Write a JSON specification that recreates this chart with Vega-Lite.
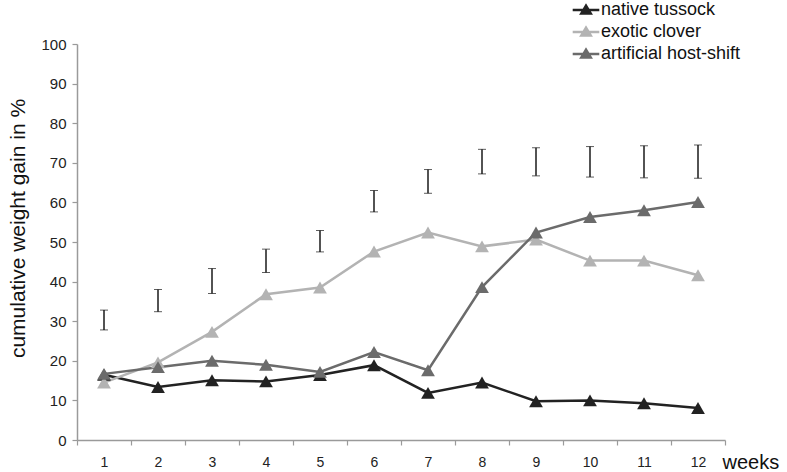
{
  "$schema": "https://vega.github.io/schema/vega-lite/v6.json",
  "autosize": {"type": "none"},
  "padding": {"left": 77, "top": 44, "right": 62, "bottom": 32},
  "width": 648,
  "height": 396,
  "background": "white",
  "config": {
    "view": {"stroke": null},
    "font": "Liberation Sans",
    "axis": {"grid": false, "domainColor": "#9a9a9a", "tickColor": "#9a9a9a", "labelColor": "#222222", "titleColor": "#111111", "titleFontWeight": "normal", "domainWidth": 1.5, "tickWidth": 1.2}
  },
  "datasets": {
    "lines": [
      {"week": 1, "group": "native tussock", "gain": 16.5},
      {"week": 2, "group": "native tussock", "gain": 13.4},
      {"week": 3, "group": "native tussock", "gain": 15.1},
      {"week": 4, "group": "native tussock", "gain": 14.8},
      {"week": 5, "group": "native tussock", "gain": 16.4},
      {"week": 6, "group": "native tussock", "gain": 18.9},
      {"week": 7, "group": "native tussock", "gain": 11.9},
      {"week": 8, "group": "native tussock", "gain": 14.5},
      {"week": 9, "group": "native tussock", "gain": 9.8},
      {"week": 10, "group": "native tussock", "gain": 10.0},
      {"week": 11, "group": "native tussock", "gain": 9.3},
      {"week": 12, "group": "native tussock", "gain": 8.1},
      {"week": 1, "group": "exotic clover", "gain": 14.5},
      {"week": 2, "group": "exotic clover", "gain": 19.6},
      {"week": 3, "group": "exotic clover", "gain": 27.3},
      {"week": 4, "group": "exotic clover", "gain": 36.8},
      {"week": 5, "group": "exotic clover", "gain": 38.5},
      {"week": 6, "group": "exotic clover", "gain": 47.6},
      {"week": 7, "group": "exotic clover", "gain": 52.4},
      {"week": 8, "group": "exotic clover", "gain": 48.9},
      {"week": 9, "group": "exotic clover", "gain": 50.6},
      {"week": 10, "group": "exotic clover", "gain": 45.3},
      {"week": 11, "group": "exotic clover", "gain": 45.3},
      {"week": 12, "group": "exotic clover", "gain": 41.6},
      {"week": 1, "group": "artificial host-shift", "gain": 16.7},
      {"week": 2, "group": "artificial host-shift", "gain": 18.4},
      {"week": 3, "group": "artificial host-shift", "gain": 20.0},
      {"week": 4, "group": "artificial host-shift", "gain": 19.0},
      {"week": 5, "group": "artificial host-shift", "gain": 17.2},
      {"week": 6, "group": "artificial host-shift", "gain": 22.2},
      {"week": 7, "group": "artificial host-shift", "gain": 17.6},
      {"week": 8, "group": "artificial host-shift", "gain": 38.6},
      {"week": 9, "group": "artificial host-shift", "gain": 52.4},
      {"week": 10, "group": "artificial host-shift", "gain": 56.3},
      {"week": 11, "group": "artificial host-shift", "gain": 58.0},
      {"week": 12, "group": "artificial host-shift", "gain": 60.1}
    ],
    "bars": [
      {"week": 1, "lo": 27.8, "hi": 32.8},
      {"week": 2, "lo": 32.4, "hi": 38.0},
      {"week": 3, "lo": 37.0, "hi": 43.3},
      {"week": 4, "lo": 42.3, "hi": 48.2},
      {"week": 5, "lo": 47.5, "hi": 52.9},
      {"week": 6, "lo": 57.6, "hi": 63.0},
      {"week": 7, "lo": 62.3, "hi": 68.3},
      {"week": 8, "lo": 67.2, "hi": 73.4},
      {"week": 9, "lo": 66.7, "hi": 73.8},
      {"week": 10, "lo": 66.4, "hi": 74.1},
      {"week": 11, "lo": 66.2, "hi": 74.3},
      {"week": 12, "lo": 66.1, "hi": 74.5}
    ]
  },
  "encoding": {
    "x": {
      "field": "week", "type": "ordinal",
      "scale": {"type": "band", "paddingInner": 0, "paddingOuter": 0},
      "axis": {
        "title": "weeks", "labelAngle": 0, "labelFontSize": 14, "labelPadding": 10, "tickSize": 5, "tickBand": "extent",
        "titleFontSize": 20, "titleAlign": "left", "titleBaseline": "alphabetic", "titleX": 645, "titleY": 28, "titleAnchor": null
      }
    }
  },
  "layer": [
    {
      "data": {"name": "bars"},
      "mark": {"type": "errorbar", "ticks": {"size": 8, "color": "#1a1a1a", "strokeWidth": 1.5}, "rule": {"color": "#1a1a1a", "strokeWidth": 1.5}},
      "encoding": {
        "y": {
          "field": "lo", "type": "quantitative",
          "scale": {"domain": [0, 100], "nice": false},
          "axis": {
            "title": "cumulative weight gain in %", "values": [0, 10, 20, 30, 40, 50, 60, 70, 80, 90, 100],
            "labelFontSize": 15, "labelPadding": 6, "tickSize": 5,
            "titleFontSize": 21, "titleAngle": -90, "titleAlign": "center", "titleBaseline": "middle", "titleX": -59, "titleY": 184
          }
        },
        "y2": {"field": "hi"}
      }
    },
    {
      "data": {"name": "lines"},
      "mark": {"type": "line", "strokeWidth": 2.5, "point": {"shape": "triangle-up", "size": 190, "filled": true, "opacity": 1}},
      "encoding": {
        "y": {
          "field": "gain", "type": "quantitative",
          "scale": {"domain": [0, 100], "nice": false},
          "axis": {
            "title": "cumulative weight gain in %", "values": [0, 10, 20, 30, 40, 50, 60, 70, 80, 90, 100],
            "labelFontSize": 15, "labelPadding": 6, "tickSize": 5,
            "titleFontSize": 21, "titleAngle": -90, "titleAlign": "center", "titleBaseline": "middle", "titleX": -59, "titleY": 184
          }
        },
        "color": {
          "field": "group", "type": "nominal",
          "scale": {"domain": ["native tussock", "exotic clover", "artificial host-shift"], "range": ["#222222", "#b3b3b3", "#6b6b6b"]},
          "legend": {
            "title": null, "orient": "none", "legendX": 498, "legendY": -45, "padding": 0,
            "labelFontSize": 18, "labelColor": "#111111", "labelOffset": 4, "rowPadding": 2,
            "symbolType": "M-1.4,0H1.4M-0.5,0.38L0,-0.45L0.5,0.38Z", "symbolSize": 361, "symbolStrokeWidth": 2.5,
            "encode": {"symbols": {"update": {"fill": {"scale": "color", "field": "value"}, "stroke": {"scale": "color", "field": "value"}, "strokeWidth": {"value": 2.5}, "opacity": {"value": 1}}}}
          }
        }
      }
    }
  ]
}
